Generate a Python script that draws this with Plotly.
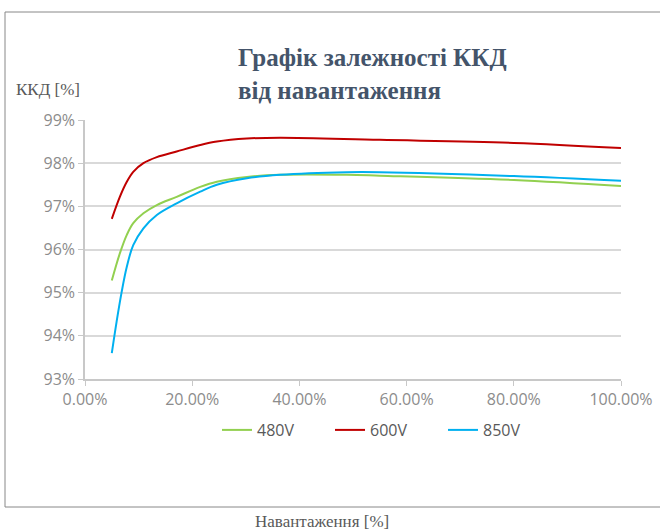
import plotly.graph_objects as go

load_480 = [5, 6.5, 7.8, 9, 10.9, 13.4, 17.1, 21.5, 24.6, 30.2, 36.4, 48.8, 55, 80, 100]
eff_480 = [95.28, 95.91, 96.34, 96.61, 96.84, 97.03, 97.22, 97.45, 97.57, 97.68, 97.73, 97.73, 97.71, 97.61, 97.47]

load_600 = [5, 6.5, 7.8, 9, 10.9, 13.4, 17.1, 21.5, 24.6, 30.2, 36.4, 55, 80, 100]
eff_600 = [96.71, 97.22, 97.57, 97.80, 98.0, 98.14, 98.27, 98.42, 98.50, 98.57, 98.59, 98.54, 98.47, 98.35]

load_850 = [5, 5.9, 6.8, 7.8, 9, 10.9, 13.4, 17.1, 21.5, 24.6, 30.2, 36.4, 48.8, 55, 80, 100]
eff_850 = [93.60, 94.33, 94.99, 95.60, 96.10, 96.49, 96.80, 97.07, 97.34, 97.50, 97.65, 97.73, 97.79, 97.79, 97.70, 97.59]

x_ticks = [0, 20, 40, 60, 80, 100]
x_tick_labels = ["0.00%", "20.00%", "40.00%", "60.00%", "80.00%", "100.00%"]
y_ticks = [93, 94, 95, 96, 97, 98, 99]
y_tick_labels = ["93%", "94%", "95%", "96%", "97%", "98%", "99%"]

fig = go.Figure()
for name, xs, ys, col in [("480V", load_480, eff_480, "#92D050"),
                          ("600V", load_600, eff_600, "#C00000"),
                          ("850V", load_850, eff_850, "#00B0F0")]:
    fig.add_trace(go.Scatter(x=xs, y=ys, name=name, mode="lines",
                             line=dict(color=col, width=2, shape="spline", smoothing=1.0)))

W, H = 660, 532
L, R, T, B = 85, 39, 120, 153
pw, ph = W - L - R, H - T - B

def px(x):
    return (x - L) / pw

def py(y):
    return (H - B - y) / ph

fig.update_layout(
    width=W, height=H,
    margin=dict(l=L, r=R, t=T, b=B, autoexpand=False),
    paper_bgcolor="white", plot_bgcolor="white",
    font=dict(family="Open Sans", color="#8c8c8c"),
    showlegend=True,
    legend=dict(orientation="h", x=px(217), xanchor="left", y=py(430), yanchor="middle",
                font=dict(size=16, color="#595959"), tracegroupgap=0,
                entrywidth=68, entrywidthmode="pixels"),
    xaxis=dict(range=[0, 100], tickvals=x_ticks, ticktext=x_tick_labels, automargin=False,
               showgrid=False, zeroline=False, showline=True, linecolor="#c8c8c8", linewidth=1.5,
               ticks="outside", ticklen=5, tickcolor="#c8c8c8",
               tickfont=dict(size=16, color="#8c8c8c")),
    yaxis=dict(range=[93, 99], tickvals=y_ticks, ticktext=y_tick_labels, automargin=False,
               showgrid=True, gridcolor="#d9d9d9", gridwidth=1.5, zeroline=False,
               showline=True, linecolor="#c8c8c8", linewidth=1.5,
               ticks="outside", ticklen=5, tickcolor="#c8c8c8",
               tickfont=dict(size=16, color="#8c8c8c")),
    shapes=[dict(type="rect", xref="paper", yref="paper",
                 x0=px(5), x1=px(665), y0=py(507), y1=py(12),
                 line=dict(color="#888888", width=1), fillcolor="rgba(0,0,0,0)")],
    annotations=[
        dict(text="<b>Графік залежності ККД<br>від навантаження</b>", xref="paper", yref="paper",
             x=px(236), y=py(42), xanchor="left", yanchor="top", align="left", showarrow=False,
             font=dict(family="Liberation Serif", size=25, color="#44546A")),
        dict(text="ККД [%]", xref="paper", yref="paper", x=px(14), y=py(89),
             xanchor="left", yanchor="middle", showarrow=False,
             font=dict(family="Liberation Serif", size=17, color="#595959")),
        dict(text="Навантаження [%]", xref="paper", yref="paper", x=px(322), y=py(521),
             xanchor="center", yanchor="middle", showarrow=False,
             font=dict(family="Liberation Serif", size=17, color="#595959")),
    ],
)

fig.write_html("out.html", config={"displayModeBar": False},
               post_script="document.body.style.margin='0';")
